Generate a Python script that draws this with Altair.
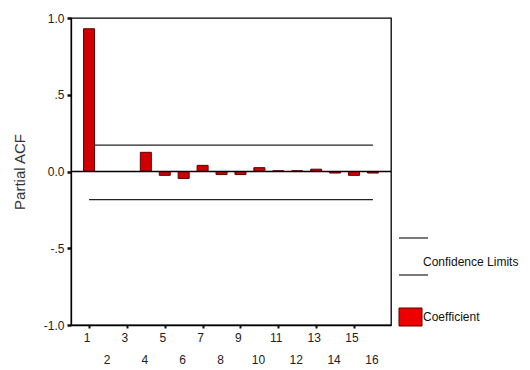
import altair as alt
import pandas as pd

# ---- data ----
lags = list(range(1, 17))
pacf = [0.93, 0.0, 0.0, 0.125, -0.025, -0.045, 0.04, -0.02, -0.02,
        0.025, 0.005, 0.005, 0.015, -0.01, -0.025, -0.01]
conf_limits = [0.172, -0.183]
conf_from_lag = 1
conf_to_lag = 16
y_ticks = [-1.0, -0.5, 0.0, 0.5, 1.0]
y_tick_labels = ["-1.0", "-.5", "0.0", ".5", "1.0"]
legend_labels = ["Confidence Limits", "Coefficient"]

FONT = "Liberation Sans"
W, H = 320, 307

bars_df = pd.DataFrame({"lag": lags, "pacf": pacf})
bars_df["lag_label"] = bars_df["lag"].astype(str)
conf_df = pd.DataFrame({"y": conf_limits, "x1": [conf_from_lag] * 2, "x2": [conf_to_lag] * 2})
zero_df = pd.DataFrame({"y": [0.0]})
one_df = pd.DataFrame({"k": [0]})

xscale = alt.Scale(domain=[0.31, 16.69], nice=False, zero=False)
yscale = alt.Scale(domain=[-1, 1], nice=False)

y_label_expr = " : ".join(
    f"datum.value == {v} ? '{s}'" for v, s in zip(y_ticks, y_tick_labels)
) + " : datum.label"

x_axis = alt.Axis(
    values=lags, title=None, grid=False, labels=False,
    tickSize=3, tickColor="#111", tickWidth=2,
    domainColor="black", domainWidth=1.3,
)
y_axis = alt.Axis(
    values=y_ticks, title="Partial ACF", grid=False,
    tickSize=4, tickColor="#111", tickWidth=2.5,
    labelExpr=y_label_expr, labelOverlap=False, labelFlush=False,
    labelFont=FONT, labelFontSize=12, labelColor="#222", labelPadding=3,
    titleFont=FONT, titleFontSize=15, titleFontWeight="normal", titleColor="#333",
    titlePadding=16,
    domainColor="black", domainWidth=1.3,
)

bars = alt.Chart(bars_df).mark_bar(size=11, fill="#d00000", stroke="#5a0000", strokeWidth=1).encode(
    x=alt.X("lag:Q", scale=xscale, axis=x_axis),
    y=alt.Y("pacf:Q", scale=yscale, axis=y_axis),
)

# staggered lag labels: odd lags on the first row, even lags on the second
odd_labels = alt.Chart(bars_df).transform_filter("datum.lag % 2 == 1").mark_text(
    baseline="middle", align="center", font=FONT, fontSize=12, color="#222", dx=-2
).encode(x=alt.X("lag:Q", scale=xscale), y=alt.value(H + 13), text="lag_label:N")
even_labels = alt.Chart(bars_df).transform_filter("datum.lag % 2 == 0").mark_text(
    baseline="middle", align="center", font=FONT, fontSize=12, color="#222", dx=-1
).encode(x=alt.X("lag:Q", scale=xscale), y=alt.value(H + 35), text="lag_label:N")

zero_line = alt.Chart(zero_df).mark_rule(color="black", strokeWidth=1.3).encode(
    y=alt.Y("y:Q", scale=yscale)
)

conf = alt.Chart(conf_df).mark_rule(color="#222", strokeWidth=1.2).encode(
    x=alt.X("x1:Q", scale=xscale), x2="x2:Q", y=alt.Y("y:Q", scale=yscale)
)

# ---- hand-drawn legend on the right ----
leg_line1 = alt.Chart(one_df).mark_rule(color="#222", strokeWidth=1.2).encode(
    x=alt.value(328), x2=alt.value(357), y=alt.value(220))
leg_line2 = alt.Chart(one_df).mark_rule(color="#222", strokeWidth=1.2).encode(
    x=alt.value(328), x2=alt.value(357), y=alt.value(257))
leg_text1 = alt.Chart(one_df).mark_text(align="left", baseline="middle", font=FONT,
                                         fontSize=12, color="#111").encode(
    x=alt.value(352), y=alt.value(244), text=alt.value(legend_labels[0]))
leg_rect = alt.Chart(one_df).mark_rect(fill="#ee0000", stroke="#5a0000", strokeWidth=1).encode(
    x=alt.value(328), x2=alt.value(351), y=alt.value(290), y2=alt.value(308))
leg_text2 = alt.Chart(one_df).mark_text(align="left", baseline="middle", font=FONT,
                                         fontSize=12, color="#111").encode(
    x=alt.value(352), y=alt.value(299), text=alt.value(legend_labels[1]))

chart = alt.layer(
    conf, bars, zero_line, odd_labels, even_labels,
    leg_line1, leg_line2, leg_text1, leg_rect, leg_text2
).properties(
    width=W, height=H,
    autosize=alt.AutoSizeParams(type="none"),
    padding={"left": 71, "top": 18, "right": 139, "bottom": 45},
    background="white",
).configure_view(
    stroke="black", strokeWidth=1.3
)

chart.save("out.html", embed_options={"renderer": "svg", "actions": False})
